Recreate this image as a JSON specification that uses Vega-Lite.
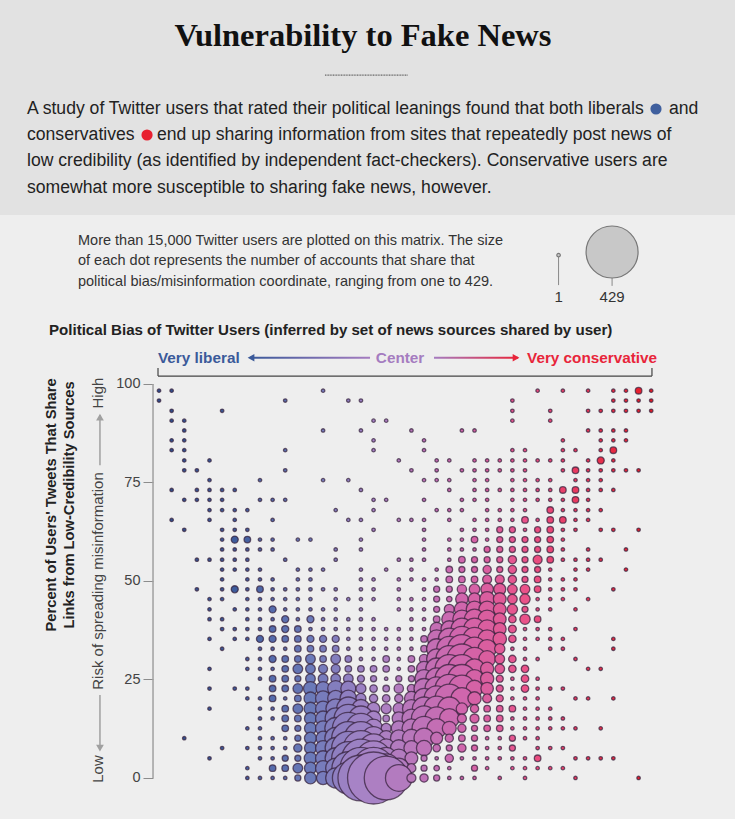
{"$schema":"https://vega.github.io/schema/vega-lite/v6.json","width":735,"height":819,"padding":0,"autosize":{"type":"fit","contains":"padding"},"background":"#eeeeee","view":{"stroke":null},
"config":{"font":"Liberation Sans"},
"datasets":{"dots":[
{"x":0,"y":98.3,"n":1},{"x":1,"y":98.3,"n":1},{"x":13,"y":98.3,"n":1},{"x":30,"y":98.3,"n":1},{"x":32,"y":98.3,"n":1},{"x":34,"y":98.3,"n":1},{"x":36,"y":98.3,"n":1},{"x":37,"y":98.3,"n":1},{"x":38,"y":98.3,"n":6},{"x":39,"y":98.3,"n":1},
{"x":0,"y":95.8,"n":1},{"x":10,"y":95.8,"n":1},{"x":15,"y":95.8,"n":1},{"x":16,"y":95.8,"n":1},{"x":28,"y":95.8,"n":1},{"x":36,"y":95.8,"n":1},{"x":37,"y":95.8,"n":1},{"x":38,"y":95.8,"n":1},{"x":39,"y":95.8,"n":1},
{"x":1,"y":93.2,"n":1},{"x":5,"y":93.2,"n":1},{"x":28,"y":93.2,"n":1},{"x":31,"y":93.2,"n":1},{"x":34,"y":93.2,"n":1},{"x":35,"y":93.2,"n":1},{"x":36,"y":93.2,"n":1},{"x":37,"y":93.2,"n":1},{"x":38,"y":93.2,"n":1},{"x":39,"y":93.2,"n":1},
{"x":1,"y":90.7,"n":1},{"x":2,"y":90.7,"n":1},{"x":17,"y":90.7,"n":1},{"x":18,"y":90.7,"n":1},{"x":28,"y":90.7,"n":1},{"x":31,"y":90.7,"n":1},
{"x":2,"y":88.2,"n":1},{"x":13,"y":88.2,"n":1},{"x":16,"y":88.2,"n":1},{"x":20,"y":88.2,"n":1},{"x":24,"y":88.2,"n":1},{"x":25,"y":88.2,"n":1},{"x":34,"y":88.2,"n":1},{"x":35,"y":88.2,"n":1},{"x":36,"y":88.2,"n":1},{"x":37,"y":88.2,"n":1},
{"x":1,"y":85.7,"n":1},{"x":2,"y":85.7,"n":1},{"x":17,"y":85.7,"n":1},{"x":21,"y":85.7,"n":1},{"x":32,"y":85.7,"n":1},{"x":35,"y":85.7,"n":1},{"x":36,"y":85.7,"n":1},{"x":37,"y":85.7,"n":1},
{"x":1,"y":83.2,"n":1},{"x":2,"y":83.2,"n":1},{"x":10,"y":83.2,"n":1},{"x":17,"y":83.2,"n":1},{"x":21,"y":83.2,"n":1},{"x":28,"y":83.2,"n":1},{"x":29,"y":83.2,"n":1},{"x":32,"y":83.2,"n":1},{"x":33,"y":83.2,"n":1},{"x":35,"y":83.2,"n":1},{"x":36,"y":83.2,"n":6},
{"x":2,"y":80.6,"n":1},{"x":4,"y":80.6,"n":1},{"x":19,"y":80.6,"n":1},{"x":22,"y":80.6,"n":1},{"x":23,"y":80.6,"n":1},{"x":25,"y":80.6,"n":1},{"x":26,"y":80.6,"n":1},{"x":27,"y":80.6,"n":1},{"x":28,"y":80.6,"n":1},{"x":29,"y":80.6,"n":1},{"x":30,"y":80.6,"n":1},{"x":31,"y":80.6,"n":1},{"x":32,"y":80.6,"n":1},{"x":34,"y":80.6,"n":1},{"x":35,"y":80.6,"n":7},{"x":36,"y":80.6,"n":1},
{"x":2,"y":78.1,"n":1},{"x":3,"y":78.1,"n":1},{"x":10,"y":78.1,"n":1},{"x":20,"y":78.1,"n":1},{"x":22,"y":78.1,"n":1},{"x":24,"y":78.1,"n":1},{"x":25,"y":78.1,"n":1},{"x":26,"y":78.1,"n":1},{"x":27,"y":78.1,"n":1},{"x":28,"y":78.1,"n":1},{"x":29,"y":78.1,"n":1},{"x":32,"y":78.1,"n":1},{"x":33,"y":78.1,"n":6},{"x":34,"y":78.1,"n":1},{"x":35,"y":78.1,"n":1},{"x":36,"y":78.1,"n":1},{"x":37,"y":78.1,"n":1},{"x":38,"y":78.1,"n":1},
{"x":4,"y":75.6,"n":1},{"x":8,"y":75.6,"n":1},{"x":13,"y":75.6,"n":1},{"x":15,"y":75.6,"n":1},{"x":21,"y":75.6,"n":1},{"x":22,"y":75.6,"n":1},{"x":23,"y":75.6,"n":1},{"x":25,"y":75.6,"n":1},{"x":26,"y":75.6,"n":1},{"x":28,"y":75.6,"n":1},{"x":29,"y":75.6,"n":1},{"x":30,"y":75.6,"n":1},{"x":31,"y":75.6,"n":1},{"x":33,"y":75.6,"n":1},{"x":34,"y":75.6,"n":1},{"x":35,"y":75.6,"n":1},
{"x":1,"y":73.1,"n":1},{"x":3,"y":73.1,"n":1},{"x":4,"y":73.1,"n":1},{"x":5,"y":73.1,"n":1},{"x":6,"y":73.1,"n":1},{"x":16,"y":73.1,"n":1},{"x":23,"y":73.1,"n":1},{"x":25,"y":73.1,"n":1},{"x":26,"y":73.1,"n":1},{"x":27,"y":73.1,"n":1},{"x":28,"y":73.1,"n":1},{"x":29,"y":73.1,"n":1},{"x":30,"y":73.1,"n":1},{"x":31,"y":73.1,"n":1},{"x":32,"y":73.1,"n":6},{"x":33,"y":73.1,"n":6},{"x":34,"y":73.1,"n":1},{"x":35,"y":73.1,"n":1},{"x":36,"y":73.1,"n":1},
{"x":2,"y":70.6,"n":1},{"x":3,"y":70.6,"n":1},{"x":4,"y":70.6,"n":1},{"x":5,"y":70.6,"n":1},{"x":8,"y":70.6,"n":1},{"x":9,"y":70.6,"n":1},{"x":10,"y":70.6,"n":1},{"x":17,"y":70.6,"n":1},{"x":18,"y":70.6,"n":1},{"x":21,"y":70.6,"n":1},{"x":24,"y":70.6,"n":1},{"x":25,"y":70.6,"n":1},{"x":26,"y":70.6,"n":1},{"x":28,"y":70.6,"n":1},{"x":29,"y":70.6,"n":1},{"x":30,"y":70.6,"n":1},{"x":31,"y":70.6,"n":1},{"x":32,"y":70.6,"n":1},{"x":33,"y":70.6,"n":6},{"x":34,"y":70.6,"n":1},
{"x":4,"y":68,"n":1},{"x":5,"y":68,"n":1},{"x":6,"y":68,"n":1},{"x":7,"y":68,"n":1},{"x":14,"y":68,"n":1},{"x":17,"y":68,"n":1},{"x":22,"y":68,"n":1},{"x":23,"y":68,"n":1},{"x":24,"y":68,"n":1},{"x":26,"y":68,"n":1},{"x":27,"y":68,"n":1},{"x":28,"y":68,"n":1},{"x":29,"y":68,"n":1},{"x":31,"y":68,"n":6},{"x":32,"y":68,"n":1},{"x":33,"y":68,"n":1},{"x":34,"y":68,"n":1},{"x":35,"y":68,"n":1},
{"x":1,"y":65.5,"n":1},{"x":4,"y":65.5,"n":1},{"x":6,"y":65.5,"n":1},{"x":9,"y":65.5,"n":1},{"x":15,"y":65.5,"n":1},{"x":16,"y":65.5,"n":1},{"x":19,"y":65.5,"n":1},{"x":20,"y":65.5,"n":1},{"x":21,"y":65.5,"n":1},{"x":23,"y":65.5,"n":1},{"x":25,"y":65.5,"n":1},{"x":26,"y":65.5,"n":1},{"x":27,"y":65.5,"n":1},{"x":28,"y":65.5,"n":1},{"x":29,"y":65.5,"n":6},{"x":30,"y":65.5,"n":1},{"x":31,"y":65.5,"n":6},{"x":32,"y":65.5,"n":6},{"x":33,"y":65.5,"n":1},{"x":34,"y":65.5,"n":1},
{"x":2,"y":63,"n":1},{"x":5,"y":63,"n":1},{"x":6,"y":63,"n":1},{"x":7,"y":63,"n":1},{"x":17,"y":63,"n":1},{"x":21,"y":63,"n":1},{"x":24,"y":63,"n":1},{"x":25,"y":63,"n":1},{"x":26,"y":63,"n":1},{"x":27,"y":63,"n":5},{"x":28,"y":63,"n":5},{"x":29,"y":63,"n":1},{"x":30,"y":63,"n":5},{"x":31,"y":63,"n":6},{"x":32,"y":63,"n":1},{"x":33,"y":63,"n":1},{"x":35,"y":63,"n":1},{"x":36,"y":63,"n":1},{"x":38,"y":63,"n":1},
{"x":5,"y":60.5,"n":1},{"x":6,"y":60.5,"n":7},{"x":7,"y":60.5,"n":6},{"x":8,"y":60.5,"n":1},{"x":9,"y":60.5,"n":1},{"x":11,"y":60.5,"n":1},{"x":12,"y":60.5,"n":1},{"x":16,"y":60.5,"n":1},{"x":21,"y":60.5,"n":1},{"x":23,"y":60.5,"n":1},{"x":24,"y":60.5,"n":1},{"x":25,"y":60.5,"n":6},{"x":26,"y":60.5,"n":1},{"x":27,"y":60.5,"n":5},{"x":28,"y":60.5,"n":5},{"x":29,"y":60.5,"n":5},{"x":30,"y":60.5,"n":5},{"x":31,"y":60.5,"n":6},{"x":32,"y":60.5,"n":1},
{"x":5,"y":58,"n":1},{"x":6,"y":58,"n":1},{"x":7,"y":58,"n":1},{"x":8,"y":58,"n":1},{"x":9,"y":58,"n":1},{"x":14,"y":58,"n":1},{"x":16,"y":58,"n":1},{"x":21,"y":58,"n":1},{"x":23,"y":58,"n":1},{"x":24,"y":58,"n":1},{"x":25,"y":58,"n":1},{"x":26,"y":58,"n":5},{"x":27,"y":58,"n":5},{"x":28,"y":58,"n":5},{"x":29,"y":58,"n":5},{"x":30,"y":58,"n":5},{"x":31,"y":58,"n":6},{"x":32,"y":58,"n":1},{"x":34,"y":58,"n":1},{"x":37,"y":58,"n":1},
{"x":3,"y":55.4,"n":1},{"x":4,"y":55.4,"n":1},{"x":5,"y":55.4,"n":1},{"x":6,"y":55.4,"n":1},{"x":7,"y":55.4,"n":1},{"x":10,"y":55.4,"n":1},{"x":14,"y":55.4,"n":1},{"x":19,"y":55.4,"n":1},{"x":20,"y":55.4,"n":1},{"x":21,"y":55.4,"n":1},{"x":23,"y":55.4,"n":1},{"x":24,"y":55.4,"n":6},{"x":25,"y":55.4,"n":5},{"x":26,"y":55.4,"n":5},{"x":27,"y":55.4,"n":5},{"x":28,"y":55.4,"n":10},{"x":29,"y":55.4,"n":5},{"x":30,"y":55.4,"n":12},{"x":31,"y":55.4,"n":6},{"x":32,"y":55.4,"n":1},{"x":33,"y":55.4,"n":1},{"x":34,"y":55.4,"n":1},{"x":35,"y":55.4,"n":1},
{"x":5,"y":52.9,"n":1},{"x":6,"y":52.9,"n":1},{"x":7,"y":52.9,"n":1},{"x":8,"y":52.9,"n":1},{"x":11,"y":52.9,"n":1},{"x":12,"y":52.9,"n":1},{"x":13,"y":52.9,"n":1},{"x":16,"y":52.9,"n":1},{"x":18,"y":52.9,"n":1},{"x":20,"y":52.9,"n":1},{"x":22,"y":52.9,"n":1},{"x":23,"y":52.9,"n":6},{"x":24,"y":52.9,"n":5},{"x":25,"y":52.9,"n":5},{"x":26,"y":52.9,"n":10},{"x":27,"y":52.9,"n":5},{"x":28,"y":52.9,"n":10},{"x":29,"y":52.9,"n":5},{"x":30,"y":52.9,"n":5},{"x":31,"y":52.9,"n":1},{"x":33,"y":52.9,"n":1},{"x":34,"y":52.9,"n":1},{"x":37,"y":52.9,"n":1},
{"x":5,"y":50.4,"n":1},{"x":7,"y":50.4,"n":1},{"x":8,"y":50.4,"n":1},{"x":9,"y":50.4,"n":1},{"x":11,"y":50.4,"n":1},{"x":12,"y":50.4,"n":1},{"x":16,"y":50.4,"n":1},{"x":17,"y":50.4,"n":1},{"x":19,"y":50.4,"n":1},{"x":20,"y":50.4,"n":1},{"x":21,"y":50.4,"n":1},{"x":22,"y":50.4,"n":1},{"x":23,"y":50.4,"n":6},{"x":24,"y":50.4,"n":6},{"x":25,"y":50.4,"n":6},{"x":26,"y":50.4,"n":12},{"x":27,"y":50.4,"n":12},{"x":28,"y":50.4,"n":10},{"x":29,"y":50.4,"n":5},{"x":30,"y":50.4,"n":6},{"x":31,"y":50.4,"n":1},{"x":32,"y":50.4,"n":1},{"x":33,"y":50.4,"n":1},
{"x":3,"y":47.9,"n":1},{"x":5,"y":47.9,"n":1},{"x":6,"y":47.9,"n":7},{"x":7,"y":47.9,"n":1},{"x":8,"y":47.9,"n":6},{"x":9,"y":47.9,"n":1},{"x":10,"y":47.9,"n":1},{"x":11,"y":47.9,"n":1},{"x":12,"y":47.9,"n":1},{"x":13,"y":47.9,"n":1},{"x":14,"y":47.9,"n":1},{"x":16,"y":47.9,"n":1},{"x":17,"y":47.9,"n":1},{"x":19,"y":47.9,"n":1},{"x":21,"y":47.9,"n":1},{"x":22,"y":47.9,"n":5},{"x":23,"y":47.9,"n":5},{"x":24,"y":47.9,"n":13},{"x":25,"y":47.9,"n":17},{"x":26,"y":47.9,"n":24},{"x":27,"y":47.9,"n":22},{"x":28,"y":47.9,"n":14},{"x":29,"y":47.9,"n":14},{"x":30,"y":47.9,"n":6},{"x":31,"y":47.9,"n":1},{"x":32,"y":47.9,"n":1},{"x":33,"y":47.9,"n":1},{"x":36,"y":47.9,"n":1},
{"x":4,"y":45.4,"n":1},{"x":5,"y":45.4,"n":1},{"x":7,"y":45.4,"n":1},{"x":8,"y":45.4,"n":1},{"x":9,"y":45.4,"n":1},{"x":10,"y":45.4,"n":1},{"x":11,"y":45.4,"n":1},{"x":12,"y":45.4,"n":1},{"x":14,"y":45.4,"n":1},{"x":15,"y":45.4,"n":1},{"x":16,"y":45.4,"n":1},{"x":17,"y":45.4,"n":1},{"x":19,"y":45.4,"n":1},{"x":20,"y":45.4,"n":1},{"x":21,"y":45.4,"n":1},{"x":22,"y":45.4,"n":5},{"x":23,"y":45.4,"n":4},{"x":24,"y":45.4,"n":24},{"x":25,"y":45.4,"n":24},{"x":26,"y":45.4,"n":35},{"x":27,"y":45.4,"n":25},{"x":28,"y":45.4,"n":14},{"x":29,"y":45.4,"n":16},{"x":30,"y":45.4,"n":1},{"x":31,"y":45.4,"n":1},{"x":32,"y":45.4,"n":1},{"x":34,"y":45.4,"n":1},
{"x":4,"y":42.8,"n":1},{"x":6,"y":42.8,"n":1},{"x":7,"y":42.8,"n":1},{"x":8,"y":42.8,"n":1},{"x":9,"y":42.8,"n":7},{"x":10,"y":42.8,"n":1},{"x":11,"y":42.8,"n":1},{"x":12,"y":42.8,"n":1},{"x":13,"y":42.8,"n":1},{"x":14,"y":42.8,"n":1},{"x":16,"y":42.8,"n":1},{"x":19,"y":42.8,"n":1},{"x":20,"y":42.8,"n":1},{"x":21,"y":42.8,"n":1},{"x":22,"y":42.8,"n":5},{"x":23,"y":42.8,"n":15},{"x":24,"y":42.8,"n":35},{"x":25,"y":42.8,"n":43},{"x":26,"y":42.8,"n":43},{"x":27,"y":42.8,"n":25},{"x":28,"y":42.8,"n":16},{"x":29,"y":42.8,"n":5},{"x":30,"y":42.8,"n":1},{"x":31,"y":42.8,"n":1},{"x":33,"y":42.8,"n":1},
{"x":4,"y":40.3,"n":1},{"x":5,"y":40.3,"n":1},{"x":7,"y":40.3,"n":1},{"x":8,"y":40.3,"n":1},{"x":9,"y":40.3,"n":1},{"x":10,"y":40.3,"n":7},{"x":11,"y":40.3,"n":1},{"x":12,"y":40.3,"n":7},{"x":13,"y":40.3,"n":1},{"x":14,"y":40.3,"n":1},{"x":15,"y":40.3,"n":1},{"x":16,"y":40.3,"n":1},{"x":17,"y":40.3,"n":1},{"x":20,"y":40.3,"n":1},{"x":21,"y":40.3,"n":1},{"x":22,"y":40.3,"n":6},{"x":23,"y":40.3,"n":35},{"x":24,"y":40.3,"n":52},{"x":25,"y":40.3,"n":63},{"x":26,"y":40.3,"n":52},{"x":27,"y":40.3,"n":25},{"x":28,"y":40.3,"n":8},{"x":29,"y":40.3,"n":16},{"x":30,"y":40.3,"n":6},
{"x":5,"y":37.8,"n":1},{"x":6,"y":37.8,"n":1},{"x":7,"y":37.8,"n":1},{"x":8,"y":37.8,"n":1},{"x":9,"y":37.8,"n":6},{"x":10,"y":37.8,"n":7},{"x":11,"y":37.8,"n":6},{"x":12,"y":37.8,"n":1},{"x":13,"y":37.8,"n":1},{"x":14,"y":37.8,"n":1},{"x":15,"y":37.8,"n":1},{"x":16,"y":37.8,"n":1},{"x":17,"y":37.8,"n":1},{"x":18,"y":37.8,"n":1},{"x":19,"y":37.8,"n":1},{"x":20,"y":37.8,"n":1},{"x":21,"y":37.8,"n":1},{"x":22,"y":37.8,"n":27},{"x":23,"y":37.8,"n":43},{"x":24,"y":37.8,"n":74},{"x":25,"y":37.8,"n":74},{"x":26,"y":37.8,"n":52},{"x":27,"y":37.8,"n":25},{"x":28,"y":37.8,"n":9},{"x":29,"y":37.8,"n":1},{"x":30,"y":37.8,"n":1},{"x":31,"y":37.8,"n":1},{"x":33,"y":37.8,"n":1},
{"x":4,"y":35.3,"n":1},{"x":6,"y":35.3,"n":1},{"x":7,"y":35.3,"n":1},{"x":8,"y":35.3,"n":7},{"x":9,"y":35.3,"n":7},{"x":10,"y":35.3,"n":6},{"x":11,"y":35.3,"n":6},{"x":12,"y":35.3,"n":7},{"x":13,"y":35.3,"n":7},{"x":14,"y":35.3,"n":7},{"x":15,"y":35.3,"n":1},{"x":16,"y":35.3,"n":1},{"x":17,"y":35.3,"n":1},{"x":18,"y":35.3,"n":1},{"x":19,"y":35.3,"n":1},{"x":20,"y":35.3,"n":1},{"x":21,"y":35.3,"n":6},{"x":22,"y":35.3,"n":52},{"x":23,"y":35.3,"n":74},{"x":24,"y":35.3,"n":98},{"x":25,"y":35.3,"n":85},{"x":26,"y":35.3,"n":52},{"x":27,"y":35.3,"n":28},{"x":28,"y":35.3,"n":8},{"x":29,"y":35.3,"n":1},{"x":30,"y":35.3,"n":1},{"x":31,"y":35.3,"n":1},{"x":32,"y":35.3,"n":1},{"x":36,"y":35.3,"n":1},
{"x":5,"y":32.8,"n":1},{"x":8,"y":32.8,"n":1},{"x":9,"y":32.8,"n":1},{"x":10,"y":32.8,"n":1},{"x":11,"y":32.8,"n":6},{"x":12,"y":32.8,"n":6},{"x":13,"y":32.8,"n":6},{"x":14,"y":32.8,"n":6},{"x":15,"y":32.8,"n":1},{"x":16,"y":32.8,"n":1},{"x":17,"y":32.8,"n":1},{"x":18,"y":32.8,"n":1},{"x":19,"y":32.8,"n":1},{"x":20,"y":32.8,"n":1},{"x":21,"y":32.8,"n":6},{"x":22,"y":32.8,"n":63},{"x":23,"y":32.8,"n":98},{"x":24,"y":32.8,"n":127},{"x":25,"y":32.8,"n":85},{"x":26,"y":32.8,"n":52},{"x":27,"y":32.8,"n":16},{"x":28,"y":32.8,"n":1},{"x":29,"y":32.8,"n":1},{"x":31,"y":32.8,"n":1},{"x":32,"y":32.8,"n":1},{"x":36,"y":32.8,"n":1},
{"x":7,"y":30.2,"n":1},{"x":8,"y":30.2,"n":1},{"x":9,"y":30.2,"n":7},{"x":10,"y":30.2,"n":6},{"x":11,"y":30.2,"n":6},{"x":12,"y":30.2,"n":14},{"x":13,"y":30.2,"n":6},{"x":14,"y":30.2,"n":14},{"x":15,"y":30.2,"n":6},{"x":16,"y":30.2,"n":1},{"x":17,"y":30.2,"n":1},{"x":18,"y":30.2,"n":6},{"x":19,"y":30.2,"n":1},{"x":20,"y":30.2,"n":6},{"x":21,"y":30.2,"n":13},{"x":22,"y":30.2,"n":63},{"x":23,"y":30.2,"n":112},{"x":24,"y":30.2,"n":142},{"x":25,"y":30.2,"n":85},{"x":26,"y":30.2,"n":43},{"x":27,"y":30.2,"n":14},{"x":28,"y":30.2,"n":8},{"x":29,"y":30.2,"n":1},{"x":30,"y":30.2,"n":1},{"x":33,"y":30.2,"n":1},
{"x":4,"y":27.7,"n":1},{"x":7,"y":27.7,"n":1},{"x":8,"y":27.7,"n":1},{"x":9,"y":27.7,"n":1},{"x":10,"y":27.7,"n":6},{"x":11,"y":27.7,"n":14},{"x":12,"y":27.7,"n":14},{"x":13,"y":27.7,"n":12},{"x":14,"y":27.7,"n":12},{"x":15,"y":27.7,"n":6},{"x":16,"y":27.7,"n":6},{"x":17,"y":27.7,"n":6},{"x":18,"y":27.7,"n":6},{"x":19,"y":27.7,"n":1},{"x":20,"y":27.7,"n":6},{"x":21,"y":27.7,"n":35},{"x":22,"y":27.7,"n":74},{"x":23,"y":27.7,"n":127},{"x":24,"y":27.7,"n":127},{"x":25,"y":27.7,"n":63},{"x":26,"y":27.7,"n":27},{"x":27,"y":27.7,"n":14},{"x":28,"y":27.7,"n":8},{"x":29,"y":27.7,"n":8},{"x":34,"y":27.7,"n":1},{"x":35,"y":27.7,"n":1},
{"x":8,"y":25.2,"n":1},{"x":9,"y":25.2,"n":6},{"x":10,"y":25.2,"n":6},{"x":11,"y":25.2,"n":5},{"x":12,"y":25.2,"n":14},{"x":13,"y":25.2,"n":14},{"x":14,"y":25.2,"n":14},{"x":15,"y":25.2,"n":14},{"x":16,"y":25.2,"n":7},{"x":17,"y":25.2,"n":5},{"x":18,"y":25.2,"n":1},{"x":19,"y":25.2,"n":5},{"x":20,"y":25.2,"n":5},{"x":21,"y":25.2,"n":52},{"x":22,"y":25.2,"n":74},{"x":23,"y":25.2,"n":127},{"x":24,"y":25.2,"n":127},{"x":25,"y":25.2,"n":52},{"x":26,"y":25.2,"n":27},{"x":27,"y":25.2,"n":7},{"x":28,"y":25.2,"n":1},{"x":29,"y":25.2,"n":8},{"x":30,"y":25.2,"n":1},
{"x":4,"y":22.7,"n":1},{"x":6,"y":22.7,"n":1},{"x":7,"y":22.7,"n":1},{"x":9,"y":22.7,"n":6},{"x":10,"y":22.7,"n":6},{"x":11,"y":22.7,"n":14},{"x":12,"y":22.7,"n":30},{"x":13,"y":22.7,"n":30},{"x":14,"y":22.7,"n":40},{"x":15,"y":22.7,"n":35},{"x":16,"y":22.7,"n":15},{"x":17,"y":22.7,"n":8},{"x":18,"y":22.7,"n":6},{"x":19,"y":22.7,"n":13},{"x":20,"y":22.7,"n":10},{"x":21,"y":22.7,"n":63},{"x":22,"y":22.7,"n":85},{"x":23,"y":22.7,"n":127},{"x":24,"y":22.7,"n":112},{"x":25,"y":22.7,"n":43},{"x":26,"y":22.7,"n":24},{"x":27,"y":22.7,"n":7},{"x":28,"y":22.7,"n":1},{"x":29,"y":22.7,"n":8},{"x":30,"y":22.7,"n":1},{"x":31,"y":22.7,"n":1},{"x":32,"y":22.7,"n":1},
{"x":7,"y":20.2,"n":1},{"x":8,"y":20.2,"n":1},{"x":9,"y":20.2,"n":6},{"x":10,"y":20.2,"n":1},{"x":11,"y":20.2,"n":6},{"x":12,"y":20.2,"n":25},{"x":13,"y":20.2,"n":35},{"x":14,"y":20.2,"n":40},{"x":15,"y":20.2,"n":43},{"x":16,"y":20.2,"n":15},{"x":17,"y":20.2,"n":10},{"x":18,"y":20.2,"n":8},{"x":19,"y":20.2,"n":10},{"x":20,"y":20.2,"n":30},{"x":21,"y":20.2,"n":63},{"x":22,"y":20.2,"n":98},{"x":23,"y":20.2,"n":127},{"x":24,"y":20.2,"n":74},{"x":25,"y":20.2,"n":27},{"x":26,"y":20.2,"n":12},{"x":27,"y":20.2,"n":7},{"x":28,"y":20.2,"n":1},{"x":29,"y":20.2,"n":1},{"x":30,"y":20.2,"n":1},{"x":33,"y":20.2,"n":1},{"x":34,"y":20.2,"n":1},{"x":36,"y":20.2,"n":1},
{"x":4,"y":17.6,"n":1},{"x":8,"y":17.6,"n":1},{"x":9,"y":17.6,"n":1},{"x":10,"y":17.6,"n":6},{"x":11,"y":17.6,"n":14},{"x":12,"y":17.6,"n":25},{"x":13,"y":17.6,"n":35},{"x":14,"y":17.6,"n":60},{"x":15,"y":17.6,"n":85},{"x":16,"y":17.6,"n":52},{"x":17,"y":17.6,"n":24},{"x":18,"y":17.6,"n":15},{"x":19,"y":17.6,"n":20},{"x":20,"y":17.6,"n":50},{"x":21,"y":17.6,"n":85},{"x":22,"y":17.6,"n":100},{"x":23,"y":17.6,"n":85},{"x":24,"y":17.6,"n":20},{"x":25,"y":17.6,"n":10},{"x":26,"y":17.6,"n":6},{"x":27,"y":17.6,"n":6},{"x":28,"y":17.6,"n":6},{"x":29,"y":17.6,"n":1},{"x":30,"y":17.6,"n":1},{"x":31,"y":17.6,"n":1},
{"x":8,"y":15.1,"n":1},{"x":9,"y":15.1,"n":1},{"x":10,"y":15.1,"n":6},{"x":11,"y":15.1,"n":6},{"x":12,"y":15.1,"n":22},{"x":13,"y":15.1,"n":35},{"x":14,"y":15.1,"n":70},{"x":15,"y":15.1,"n":127},{"x":16,"y":15.1,"n":98},{"x":17,"y":15.1,"n":35},{"x":18,"y":15.1,"n":6},{"x":19,"y":15.1,"n":27},{"x":20,"y":15.1,"n":55},{"x":21,"y":15.1,"n":100},{"x":22,"y":15.1,"n":85},{"x":23,"y":15.1,"n":60},{"x":24,"y":15.1,"n":12},{"x":25,"y":15.1,"n":12},{"x":26,"y":15.1,"n":6},{"x":27,"y":15.1,"n":6},{"x":28,"y":15.1,"n":1},{"x":29,"y":15.1,"n":1},{"x":30,"y":15.1,"n":1},{"x":31,"y":15.1,"n":1},{"x":32,"y":15.1,"n":1},
{"x":7,"y":12.6,"n":1},{"x":8,"y":12.6,"n":1},{"x":10,"y":12.6,"n":6},{"x":11,"y":12.6,"n":5},{"x":12,"y":12.6,"n":22},{"x":13,"y":12.6,"n":35},{"x":14,"y":12.6,"n":74},{"x":15,"y":12.6,"n":160},{"x":16,"y":12.6,"n":142},{"x":17,"y":12.6,"n":52},{"x":18,"y":12.6,"n":15},{"x":19,"y":12.6,"n":35},{"x":20,"y":12.6,"n":55},{"x":21,"y":12.6,"n":90},{"x":22,"y":12.6,"n":60},{"x":23,"y":12.6,"n":30},{"x":24,"y":12.6,"n":10},{"x":25,"y":12.6,"n":5},{"x":26,"y":12.6,"n":6},{"x":27,"y":12.6,"n":6},{"x":28,"y":12.6,"n":1},{"x":29,"y":12.6,"n":1},{"x":30,"y":12.6,"n":1},{"x":31,"y":12.6,"n":1},{"x":32,"y":12.6,"n":1},{"x":33,"y":12.6,"n":1},{"x":35,"y":12.6,"n":1},
{"x":2,"y":10.1,"n":1},{"x":8,"y":10.1,"n":1},{"x":9,"y":10.1,"n":1},{"x":10,"y":10.1,"n":1},{"x":11,"y":10.1,"n":5},{"x":12,"y":10.1,"n":22},{"x":13,"y":10.1,"n":30},{"x":14,"y":10.1,"n":74},{"x":15,"y":10.1,"n":175},{"x":16,"y":10.1,"n":175},{"x":17,"y":10.1,"n":85},{"x":18,"y":10.1,"n":35},{"x":19,"y":10.1,"n":43},{"x":20,"y":10.1,"n":50},{"x":21,"y":10.1,"n":63},{"x":22,"y":10.1,"n":22},{"x":23,"y":10.1,"n":10},{"x":24,"y":10.1,"n":6},{"x":25,"y":10.1,"n":5},{"x":26,"y":10.1,"n":1},{"x":27,"y":10.1,"n":1},{"x":28,"y":10.1,"n":5},{"x":29,"y":10.1,"n":1},{"x":30,"y":10.1,"n":1},
{"x":5,"y":7.6,"n":1},{"x":7,"y":7.6,"n":1},{"x":8,"y":7.6,"n":1},{"x":9,"y":7.6,"n":1},{"x":10,"y":7.6,"n":1},{"x":11,"y":7.6,"n":10},{"x":12,"y":7.6,"n":22},{"x":13,"y":7.6,"n":35},{"x":14,"y":7.6,"n":70},{"x":15,"y":7.6,"n":175},{"x":16,"y":7.6,"n":194},{"x":17,"y":7.6,"n":127},{"x":18,"y":7.6,"n":52},{"x":19,"y":7.6,"n":43},{"x":20,"y":7.6,"n":35},{"x":21,"y":7.6,"n":36},{"x":22,"y":7.6,"n":8},{"x":23,"y":7.6,"n":5},{"x":24,"y":7.6,"n":10},{"x":25,"y":7.6,"n":5},{"x":26,"y":7.6,"n":1},{"x":27,"y":7.6,"n":1},{"x":28,"y":7.6,"n":5},{"x":30,"y":7.6,"n":1},{"x":31,"y":7.6,"n":1},{"x":32,"y":7.6,"n":1},
{"x":4,"y":5,"n":1},{"x":8,"y":5,"n":1},{"x":9,"y":5,"n":1},{"x":10,"y":5,"n":5},{"x":11,"y":5,"n":5},{"x":12,"y":5,"n":24},{"x":13,"y":5,"n":35},{"x":14,"y":5,"n":70},{"x":15,"y":5,"n":175},{"x":16,"y":5,"n":232},{"x":17,"y":5,"n":194},{"x":18,"y":5,"n":74},{"x":19,"y":5,"n":52},{"x":20,"y":5,"n":25},{"x":21,"y":5,"n":5},{"x":22,"y":5,"n":1},{"x":23,"y":5,"n":10},{"x":24,"y":5,"n":1},{"x":25,"y":5,"n":1},{"x":26,"y":5,"n":1},{"x":27,"y":5,"n":1},{"x":28,"y":5,"n":1},{"x":29,"y":5,"n":1},{"x":30,"y":5,"n":6},{"x":33,"y":5,"n":1},{"x":34,"y":5,"n":1},{"x":35,"y":5,"n":1},{"x":36,"y":5,"n":1},
{"x":7,"y":2.5,"n":1},{"x":9,"y":2.5,"n":6},{"x":10,"y":2.5,"n":6},{"x":11,"y":2.5,"n":14},{"x":12,"y":2.5,"n":22},{"x":13,"y":2.5,"n":35},{"x":14,"y":2.5,"n":63},{"x":15,"y":2.5,"n":170},{"x":16,"y":2.5,"n":275},{"x":17,"y":2.5,"n":275},{"x":18,"y":2.5,"n":127},{"x":19,"y":2.5,"n":63},{"x":20,"y":2.5,"n":12},{"x":21,"y":2.5,"n":5},{"x":22,"y":2.5,"n":4},{"x":23,"y":2.5,"n":1},{"x":25,"y":2.5,"n":5},{"x":26,"y":2.5,"n":1},{"x":28,"y":2.5,"n":1},{"x":29,"y":2.5,"n":1},{"x":30,"y":2.5,"n":1},{"x":31,"y":2.5,"n":1},{"x":32,"y":2.5,"n":1},
{"x":7,"y":0,"n":1},{"x":8,"y":0,"n":1},{"x":9,"y":0,"n":1},{"x":10,"y":0,"n":1},{"x":11,"y":0,"n":5},{"x":12,"y":0,"n":21},{"x":13,"y":0,"n":27},{"x":14,"y":0,"n":63},{"x":15,"y":0,"n":160},{"x":16,"y":0,"n":335},{"x":17,"y":0,"n":429},{"x":18,"y":0,"n":305},{"x":19,"y":0,"n":112},{"x":20,"y":0,"n":12},{"x":21,"y":0,"n":10},{"x":22,"y":0,"n":5},{"x":23,"y":0,"n":1},{"x":24,"y":0,"n":1},{"x":25,"y":0,"n":1},{"x":27,"y":0,"n":1},{"x":29,"y":0,"n":1},{"x":33,"y":0,"n":1},{"x":38,"y":0,"n":1}
]},
"encoding":{
"x":{"field":"x","type":"quantitative","scale":{"domain":[-12.6,45.64],"nice":false,"zero":false},"axis":null},
"y":{"field":"y","type":"quantitative","scale":{"domain":[-10.41,197.46],"nice":false,"zero":false},"axis":{"title":null,"values":[0,25,50,75,100],"grid":false,"domain":false,"offset":-153,"tickSize":10,"tickColor":"#8c8c8c","tickWidth":1,"labelFontSize":14.5,"labelColor":"#444444","labelPadding":3,"labelFont":"Liberation Sans"}}
},
"layer":[
{"data":{"values":[{"x":-12.6,"x2":45.64,"y":142.9,"y2":197.46}]},"mark":{"type":"rect","color":"#e2e2e2"},"encoding":{"x2":{"field":"x2"},"y2":{"field":"y2"}}},
{"data":{"values":[{"x":13.15,"x2":19.73,"y":178.4,"y2":178.4}]},"mark":{"type":"rule","color":"#444444","strokeWidth":1,"strokeDash":[1,0.6]},"encoding":{"x2":{"field":"x2"},"y2":{"field":"y2"}}},
{"data":{"values":[{"x":-0.08,"x2":39.06,"y":102,"y2":102},{"x":-0.08,"x2":-0.08,"y":102,"y2":104.06},{"x":39.06,"x2":39.06,"y":102,"y2":104.06}]},"mark":{"type":"rule","color":"#444444","strokeWidth":1.2},"encoding":{"x2":{"field":"x2"},"y2":{"field":"y2"}}},
{"data":{"values":[{"x":-0.475,"x2":-0.475,"y":0,"y2":100},{"x":-4.68,"x2":-4.68,"y":92.1,"y2":79.4},{"x":-4.68,"x2":-4.68,"y":21.07,"y2":7.1}]},"mark":{"type":"rule","color":"#a0a0a0","strokeWidth":1.5},"encoding":{"x2":{"field":"x2"},"y2":{"field":"y2"}}},
{"data":{"values":[{"x":31.66,"x2":31.66,"y":132.7,"y2":125.1},{"x":35.9,"x2":35.9,"y":127,"y2":124.9}]},"mark":{"type":"rule","color":"#888888","strokeWidth":1},"encoding":{"x2":{"field":"x2"},"y2":{"field":"y2"}}},
{"data":{"values":[{"x":7.21,"x2":16.72,"y":106.89,"y2":106.43}]},"mark":{"type":"rect","fill":{"gradient":"linear","x1":0,"x2":1,"y1":0,"y2":0,"stops":[{"offset":0,"color":"#3b5a9a"},{"offset":1,"color":"#a57cc0"}]}},"encoding":{"x2":{"field":"x2"},"y2":{"field":"y2"}}},
{"data":{"values":[{"x":21.79,"x2":28.45,"y":106.89,"y2":106.43}]},"mark":{"type":"rect","fill":{"gradient":"linear","x1":0,"x2":1,"y1":0,"y2":0,"stops":[{"offset":0,"color":"#a57cc0"},{"offset":1,"color":"#e8253a"}]}},"encoding":{"x2":{"field":"x2"},"y2":{"field":"y2"}}},
{"data":{"values":[{"x":7.29,"y":106.66}]},"mark":{"type":"point","shape":"triangle-left","filled":true,"size":60,"color":"#3b5a9a","opacity":1}},
{"data":{"values":[{"x":28.29,"y":106.66}]},"mark":{"type":"point","shape":"triangle-right","filled":true,"size":60,"color":"#e8253a","opacity":1}},
{"data":{"values":[{"x":-4.68,"y":91.6}]},"mark":{"type":"point","shape":"triangle-up","filled":true,"size":60,"color":"#a0a0a0","opacity":1}},
{"data":{"values":[{"x":-4.68,"y":7.6}]},"mark":{"type":"point","shape":"triangle-down","filled":true,"size":60,"color":"#a0a0a0","opacity":1}},
{"data":{"name":"dots"},"mark":{"type":"circle","opacity":1,"stroke":"#35203a","strokeOpacity":0.72,"strokeWidth":1.3},"encoding":{
"size":{"field":"n","type":"quantitative","legend":null,"scale":{"type":"linear","domain":[1,429],"range":[12,2704],"zero":false}},
"fill":{"field":"x","type":"quantitative","legend":null,"scale":{"type":"linear","domain":[0,6,12,17,24,29,33,38],"range":["#2f4d8c","#3e5c9c","#6b7ab9","#a783c6","#d066ad","#ea5289","#e83a60","#e8202f"],"interpolate":"rgb"}}}},
{"data":{"values":[{"x":39.38,"y":169.8}]},"mark":{"type":"circle","size":125,"color":"#3f5f9e","opacity":1}},
{"data":{"values":[{"x":-0.95,"y":163.2}]},"mark":{"type":"circle","size":125,"color":"#e8202f","opacity":1}},
{"data":{"values":[{"x":31.66,"y":132.7,"n":1},{"x":35.9,"y":133.5,"n":429}]},"mark":{"type":"circle","opacity":1,"fill":"#c8c8c8","stroke":"#777777","strokeWidth":1.2},"encoding":{"size":{"field":"n","type":"quantitative","legend":null}}},
{"data":{"values":[{"x":16.16,"y":188.3,"t":"Vulnerability to Fake News"}]},"mark":{"type":"text","font":"Liberation Serif","fontWeight":"bold","fontSize":32.5,"align":"center","baseline":"middle","color":"#111111"},"encoding":{"text":{"field":"t"}}},
{"data":{"values":[{"x":-10.46,"y":169.8,"t":"A study of Twitter users that rated their political leanings found that both liberals"},{"x":40.41,"y":169.8,"t":"and"},{"x":-10.46,"y":163.2,"t":"conservatives"},{"x":-0.16,"y":163.2,"t":"end up sharing information from sites that repeatedly post news of"},{"x":-10.46,"y":156.6,"t":"low credibility (as identified by independent fact-checkers). Conservative users are"},{"x":-10.46,"y":149.7,"t":"somewhat more susceptible to sharing fake news, however."}]},"mark":{"type":"text","fontSize":17.6,"align":"left","baseline":"middle","color":"#222222"},"encoding":{"text":{"field":"t"}}},
{"data":{"values":[{"x":-6.42,"y":136.4,"t":"More than 15,000 Twitter users are plotted on this matrix. The size"},{"x":-6.42,"y":131.1,"t":"of each dot represents the number of accounts that share that"},{"x":-6.42,"y":126,"t":"political bias/misinformation coordinate, ranging from one to 429."}]},"mark":{"type":"text","fontSize":14.5,"align":"left","baseline":"middle","color":"#333333"},"encoding":{"text":{"field":"t"}}},
{"data":{"values":[{"x":31.66,"y":122.1,"t":"1"},{"x":35.9,"y":122.1,"t":"429"}]},"mark":{"type":"text","fontSize":15,"align":"center","baseline":"middle","color":"#333333"},"encoding":{"text":{"field":"t"}}},
{"data":{"values":[{"x":-8.72,"y":113.7,"t":"Political Bias of Twitter Users (inferred by set of news sources shared by user)"}]},"mark":{"type":"text","fontSize":15.1,"fontWeight":"bold","align":"left","baseline":"middle","color":"#222222"},"encoding":{"text":{"field":"t"}}},
{"data":{"values":[{"x":-0.08,"y":106.6,"t":"Very liberal"}]},"mark":{"type":"text","fontSize":15.3,"fontWeight":"bold","align":"left","baseline":"middle","color":"#3b5a9a"},"encoding":{"text":{"field":"t"}}},
{"data":{"values":[{"x":19.1,"y":106.6,"t":"Center"}]},"mark":{"type":"text","fontSize":15.3,"fontWeight":"bold","align":"center","baseline":"middle","color":"#a57cc0"},"encoding":{"text":{"field":"t"}}},
{"data":{"values":[{"x":29.16,"y":106.6,"t":"Very conservative"}]},"mark":{"type":"text","fontSize":15.3,"fontWeight":"bold","align":"left","baseline":"middle","color":"#e8253a"},"encoding":{"text":{"field":"t"}}},
{"data":{"values":[{"x":-8.48,"y":69.3,"t":"Percent of Users' Tweets That Share"},{"x":-7.05,"y":69.3,"t":"Links from Low-Credibility Sources"}]},"mark":{"type":"text","fontSize":14.7,"fontWeight":"bold","angle":270,"align":"center","baseline":"middle","color":"#222222"},"encoding":{"text":{"field":"t"}}},
{"data":{"values":[{"x":-4.83,"y":50,"t":"Risk of spreading misinformation"},{"x":-4.83,"y":97.7,"t":"High"},{"x":-4.83,"y":2.28,"t":"Low"}]},"mark":{"type":"text","fontSize":15,"angle":270,"align":"center","baseline":"middle","color":"#444444"},"encoding":{"text":{"field":"t"}}}
]}
